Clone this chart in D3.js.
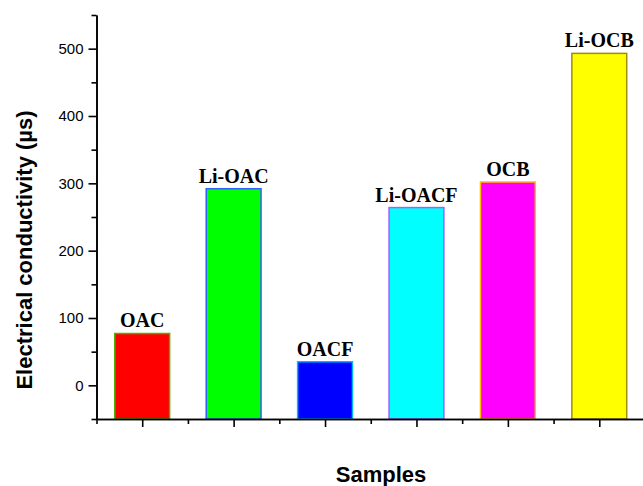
<!DOCTYPE html>
<html>
<head>
<meta charset="utf-8">
<script src="https://cdn.jsdelivr.net/npm/d3@7"></script>
<style>
  body { margin: 0; background: #fff; }
  svg { display: block; }
</style>
</head>
<body>
<div id="chart"></div>
<script>
// Data
var samples = ["OAC", "Li-OAC", "OACF", "Li-OACF", "OCB", "Li-OCB"];
var conductivity = [77, 292, 35, 264, 302, 493];
var fillColors = ["#ff0000", "#00ff00", "#0000ff", "#00ffff", "#ff00ff", "#ffff00"];
var edgeColors = ["#50b000", "#3060ff", "#00b8ff", "#a060ff", "#ffc000", "#a09000"];
var yTicks = [0, 100, 200, 300, 400, 500];
var yMinorTicks = [-50, 50, 150, 250, 350, 450, 550];

var svgWidth = 643;
var svgHeight = 486;

var margin = { top: 15, right: -2, bottom: 67, left: 96.5 };
var width = svgWidth - margin.left - margin.right;
var height = svgHeight - margin.top - margin.bottom;

var svg = d3.select("#chart")
    .append("svg")
    .attr("width", svgWidth)
    .attr("height", svgHeight);

var chartGroup = svg.append("g")
    .attr("transform", `translate(${margin.left}, ${margin.top})`);

// Scales: categories sit on 1..6, axis runs 0.5..6.5
var xScale = d3.scaleLinear()
    .domain([0.5, samples.length + 0.5])
    .range([0, width]);

var yScale = d3.scaleLinear()
    .domain([-50, 550])
    .range([height, 0]);

var barWidth = (xScale(2) - xScale(1)) * 0.6;

// Bars start at the bottom of the axis (-50)
chartGroup.selectAll(".bar")
    .data(conductivity)
    .enter()
    .append("rect")
    .attr("class", "bar")
    .attr("x", (d, i) => xScale(i + 1) - barWidth / 2)
    .attr("y", d => yScale(d))
    .attr("width", barWidth)
    .attr("height", d => yScale(-50) - yScale(d))
    .attr("fill", (d, i) => fillColors[i])
    .attr("stroke", (d, i) => edgeColors[i])
    .attr("stroke-width", 1.5);

// Labels above bars
chartGroup.selectAll(".barLabel")
    .data(conductivity)
    .enter()
    .append("text")
    .attr("class", "barLabel")
    .attr("x", (d, i) => xScale(i + 1))
    .attr("y", d => yScale(d) - 6)
    .attr("text-anchor", "middle")
    .style("font-family", "'Liberation Serif', 'Times New Roman', serif")
    .style("font-weight", "bold")
    .style("font-size", "20px")
    .text((d, i) => samples[i]);

// Left axis, major and minor ticks
var leftAxis = d3.axisLeft(yScale)
    .tickValues(yTicks)
    .tickSize(8)
    .tickPadding(5)
    .tickSizeOuter(0);

var yAxisG = chartGroup.append("g").call(leftAxis);
yAxisG.selectAll("text")
    .style("font-family", "Arial, 'Liberation Sans', sans-serif")
    .style("font-size", "15px")
    .attr("fill", "#000");

var leftMinor = d3.axisLeft(yScale)
    .tickValues(yMinorTicks)
    .tickSize(5)
    .tickFormat("")
    .tickSizeOuter(0);
chartGroup.append("g").call(leftMinor);

// Bottom axis, major ticks at bars, minor in between
var bottomAxis = d3.axisBottom(xScale)
    .tickValues(d3.range(1, samples.length + 1))
    .tickSize(8)
    .tickFormat("")
    .tickSizeOuter(0);
chartGroup.append("g")
    .attr("transform", `translate(0, ${height})`)
    .call(bottomAxis);

var bottomMinor = d3.axisBottom(xScale)
    .tickValues(d3.range(0.5, samples.length + 1, 1))
    .tickSize(5)
    .tickFormat("")
    .tickSizeOuter(0);
chartGroup.append("g")
    .attr("transform", `translate(0, ${height})`)
    .call(bottomMinor);

chartGroup.selectAll(".domain, .tick line")
    .attr("stroke", "#000")
    .attr("stroke-width", 1.6);

// Axis titles
chartGroup.append("text")
    .attr("transform", "rotate(-90)")
    .attr("x", 0 - (250 - margin.top))
    .attr("y", 0 - margin.left + 32)
    .attr("text-anchor", "middle")
    .style("font-family", "Arial, 'Liberation Sans', sans-serif")
    .style("font-weight", "bold")
    .style("font-size", "22px")
    .text("Electrical conductivity (µs)");

chartGroup.append("text")
    .attr("x", 381 - margin.left)
    .attr("y", height + 63)
    .attr("text-anchor", "middle")
    .style("font-family", "Arial, 'Liberation Sans', sans-serif")
    .style("font-weight", "bold")
    .style("font-size", "22px")
    .text("Samples");
</script>
</body>
</html>
